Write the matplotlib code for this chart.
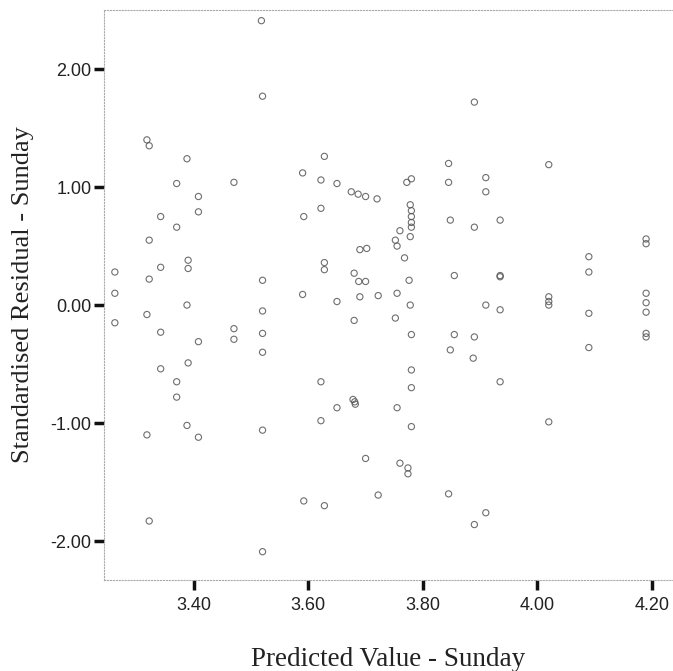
import numpy as np
import matplotlib
matplotlib.use('Agg')
import matplotlib.pyplot as plt

# predicted value / standardised residual pairs, read column by column
pred = [
    3.262, 3.262, 3.262,
    3.318, 3.322, 3.322, 3.322, 3.318, 3.318, 3.322,
    3.342, 3.342, 3.342, 3.342,
    3.370, 3.370, 3.370, 3.370,
    3.388, 3.390, 3.390, 3.388, 3.390, 3.388,
    3.408, 3.408, 3.408, 3.408,
    3.470, 3.470, 3.470,
    3.518, 3.520, 3.520, 3.520, 3.520, 3.520, 3.520, 3.520,
    3.590, 3.592, 3.590, 3.592,
    3.628, 3.622, 3.622, 3.628, 3.628, 3.622, 3.622, 3.628,
    3.650, 3.650, 3.650,
    3.675, 3.680, 3.680, 3.681, 3.678, 3.682,
    3.687, 3.690, 3.688, 3.690,
    3.700, 3.700, 3.700, 3.702,
    3.720, 3.722, 3.722,
    3.755, 3.752, 3.755, 3.755, 3.752, 3.760, 3.760,
    3.768, 3.774, 3.774, 3.776, 3.772,
    3.778, 3.780, 3.780, 3.780, 3.780, 3.780, 3.780, 3.780, 3.780, 3.780,
    3.778, 3.778,
    3.845, 3.845, 3.848, 3.855, 3.855, 3.848, 3.845,
    3.890, 3.890, 3.890, 3.890, 3.888,
    3.910, 3.910, 3.910, 3.910,
    3.935, 3.935, 3.935, 3.935, 3.935,
    4.020, 4.020, 4.020, 4.020, 4.020,
    4.090, 4.090, 4.090, 4.090,
    4.190, 4.190, 4.190, 4.190, 4.190, 4.190, 4.190,
]
resid = [
    0.28, 0.10, -0.15,
    1.40, 1.35, 0.55, 0.22, -0.08, -1.10, -1.83,
    0.75, 0.32, -0.23, -0.54,
    1.03, 0.66, -0.65, -0.78,
    1.24, 0.38, 0.31, 0.00, -0.49, -1.02,
    0.92, 0.79, -0.31, -1.12,
    1.04, -0.20, -0.29,
    2.41, 1.77, 0.21, -0.05, -0.24, -0.40, -1.06, -2.09,
    1.12, 0.75, 0.09, -1.66,
    1.26, 1.06, 0.82, 0.36, 0.30, -0.65, -0.98, -1.70,
    1.03, 0.03, -0.87,
    0.96, 0.27, -0.13, -0.82, -0.80, -0.84,
    0.94, 0.07, 0.20, 0.47,
    0.92, 0.20, -1.30, 0.48,
    0.90, 0.08, -1.61,
    0.10, 0.55, 0.50, -0.87, -0.11, -1.34, 0.63,
    0.40, -1.43, -1.38, 0.21, 1.04,
    0.85, 0.80, 0.75, 0.70, 0.66, -0.25, -0.55, -0.70, -1.03, 1.07,
    0.00, 0.58,
    1.20, 1.04, 0.72, 0.25, -0.25, -0.38, -1.60,
    1.72, 0.66, -0.27, -1.86, -0.45,
    1.08, 0.96, 0.00, -1.76,
    0.72, 0.25, -0.04, -0.65, 0.24,
    1.19, 0.07, 0.03, 0.00, -0.99,
    0.41, 0.28, -0.07, -0.36,
    0.56, 0.52, 0.10, 0.02, -0.06, -0.24, -0.27,
]

xticks = [3.40, 3.60, 3.80, 4.00, 4.20]
yticks = [-2.00, -1.00, 0.00, 1.00, 2.00]

fig = plt.figure(figsize=(6.73, 6.71), dpi=100)
ax = fig.add_axes([0.1545, 0.1356, 0.8455, 0.8494])

ax.scatter(pred, resid, s=20, facecolors='none', edgecolors='#555555',
           linewidths=0.8, marker='o', alpha=0.85)

ax.set_xlim(3.243, 4.237)
ax.set_ylim(-2.33, 2.50)
ax.set_xticks(xticks)
ax.set_yticks(yticks)
ax.set_xticklabels([f'{v:.2f}' for v in xticks])
ax.set_yticklabels([f'{v:.2f}' for v in yticks])

for s in ['left', 'top', 'bottom']:
    ax.spines[s].set_linestyle(':')
    ax.spines[s].set_color('#aaaaaa')
    ax.spines[s].set_linewidth(0.8)
ax.spines['right'].set_visible(False)

ax.tick_params(axis='both', direction='out', length=7, width=2.5,
               color='#111111', labelsize=13, labelcolor='#222222', pad=2)
ax.tick_params(axis='x', pad=5)
for lab in ax.get_xticklabels() + ax.get_yticklabels():
    lab.set_family('Liberation Sans')

ax.set_xlabel('Predicted Value - Sunday', family='Liberation Serif',
              fontsize=19.5, color='#222222', labelpad=24)
ax.set_ylabel('Standardised Residual - Sunday', family='Liberation Serif',
              fontsize=19, color='#222222', labelpad=12)

fig.savefig('out.png', dpi=100)
